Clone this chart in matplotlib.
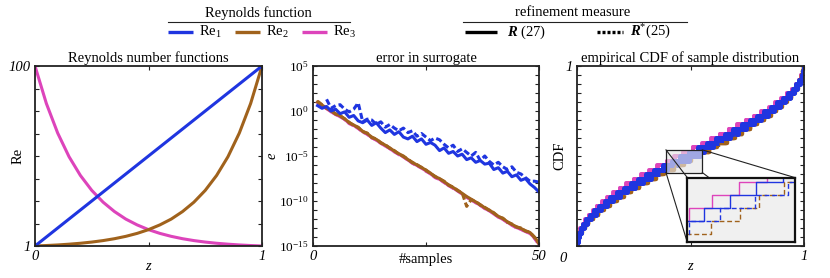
import numpy as np
import matplotlib
matplotlib.use('Agg')
import matplotlib.pyplot as plt
from matplotlib.lines import Line2D
from matplotlib.patches import Rectangle

plt.rcParams['font.family'] = ['Liberation Serif', 'DejaVu Serif']
plt.rcParams['mathtext.fontset'] = 'custom'
plt.rcParams['mathtext.rm'] = 'Liberation Serif'
plt.rcParams['mathtext.it'] = 'Liberation Serif:italic'
plt.rcParams['mathtext.bf'] = 'Liberation Serif:bold:italic'

C_BLUE = '#1f35e0'
C_BROWN = '#a0621c'
C_PINK = '#dd44bb'
C_AX = '#222222'
FS = 10.5

# ---------------- panel 1: Reynolds number functions ----------------
z_re = [0.0, 0.05, 0.1, 0.15, 0.2, 0.25, 0.3, 0.35, 0.4, 0.45, 0.5,
        0.55, 0.6, 0.65, 0.7, 0.75, 0.8, 0.85, 0.9, 0.95, 1.0]
re1 = [1.0, 5.95, 10.9, 15.85, 20.8, 25.75, 30.7, 35.65, 40.6, 45.55, 50.5,
       55.45, 60.4, 65.35, 70.3, 75.25, 80.2, 85.15, 90.1, 95.05, 100.0]
re2 = [1.0, 1.26, 1.58, 2.0, 2.51, 3.16, 3.98, 5.01, 6.31, 7.94, 10.0,
       12.6, 15.8, 19.95, 25.1, 31.6, 39.8, 50.1, 63.1, 79.4, 100.0]
re3 = [100.0, 79.4, 63.1, 50.1, 39.8, 31.6, 25.1, 19.95, 15.8, 12.6, 10.0,
       7.94, 6.31, 5.01, 3.98, 3.16, 2.51, 2.0, 1.58, 1.26, 1.0]

# ---------------- panel 2: error in surrogate (log10 of error) ----------------
n_R = list(range(1, 51))
n_Rs_re1 = list(range(3, 51))
log_err_re1_R = [0.6, 0.3, 0.5, 0.0, 0.2, -0.3, -0.1, -0.7, -0.5, -1.1,
                 -1.3, -1.0, -1.6, -1.3, -1.9, -2.4, -2.1, -2.6, -2.3, -2.9,
                 -3.1, -2.8, -3.4, -3.1, -3.7, -3.5, -3.8, -4.4, -4.1, -4.7,
                 -4.5, -5.0, -4.8, -5.4, -5.2, -5.7, -5.5, -5.9, -5.8, -6.5,
                 -6.3, -6.9, -6.7, -7.3, -7.1, -7.7, -7.5, -8.1, -8.5, -9.0]
log_err_re1_Rs = [1.3, 0.3, 0.6, 0.7, 0.2, -0.1, 0.2, 0.9, -1.2, -0.9,
                  -1.0, -1.5, -1.2, -1.8, -1.5, -1.9, -2.2, -1.9, -2.4, -2.2,
                  -2.8, -2.5, -2.9, -3.3, -3.0, -3.2, -3.7, -4.1, -3.8, -4.5,
                  -4.2, -4.6, -5.0, -4.6, -5.5, -5.0, -5.6, -6.0, -5.7, -6.2,
                  -6.5, -6.2, -6.8, -7.0, -7.4, -7.8, -7.8, -7.9]
log_err_re2_R = [1.0, 0.65, 0.35, 0.0, -0.3, -0.55, -0.85, -1.3, -1.55, -1.85,
                 -2.25, -2.5, -2.9, -3.15, -3.5, -3.8, -4.1, -4.45, -4.75, -5.0,
                 -5.4, -5.7, -6.0, -6.25, -6.6, -6.9, -7.3, -7.5, -7.85, -8.2,
                 -8.5, -8.8, -9.15, -9.5, -9.8, -10.1, -10.4, -10.75, -11.0, -11.35,
                 -11.7, -11.95, -12.3, -12.6, -12.85, -13.05, -13.3, -13.5, -14.0, -14.7]
log_err_re2_Rs = [1.1, 0.7, 0.3, 0.05, -0.35, -0.5, -0.9, -1.25, -1.6, -1.8,
                  -2.3, -2.45, -2.95, -3.1, -3.55, -3.75, -4.15, -4.4, -4.8, -5.05,
                  -5.35, -5.75, -5.95, -6.3, -6.55, -6.95, -7.25, -7.55, -7.8, -8.25,
                  -8.45, -8.85, -9.1, -10.6, -9.85, -10.05, -10.45, -10.7, -11.05, -11.3,
                  -11.75, -11.9, -12.35, -12.55, -12.9, -13.0, -13.35, -13.45, -14.05, -14.75]
log_err_re3_R = [0.95, 0.6, 0.3, -0.1, -0.35, -0.65, -0.9, -1.4, -1.6, -1.95,
                 -2.3, -2.6, -2.95, -3.25, -3.55, -3.9, -4.15, -4.55, -4.8, -5.1,
                 -5.45, -5.8, -6.05, -6.35, -6.65, -7.0, -7.35, -7.6, -7.9, -8.3,
                 -8.55, -8.9, -9.2, -9.6, -9.85, -10.2, -10.45, -10.85, -11.05, -11.45,
                 -11.75, -12.05, -12.35, -12.7, -12.95, -13.15, -13.4, -13.6, -14.1, -14.8]
log_err_re3_Rs = [0.9, 0.55, 0.25, -0.05, -0.4, -0.6, -0.95, -1.35, -1.65, -1.9,
                  -2.35, -2.55, -3.0, -3.2, -3.6, -3.85, -4.2, -4.5, -4.85, -5.1,
                  -5.45, -5.8, -6.1, -6.3, -6.7, -6.95, -7.4, -7.6, -7.95, -8.25,
                  -8.6, -8.85, -9.25, -9.55, -9.9, -10.15, -10.5, -10.8, -11.1, -11.4,
                  -11.8, -12.0, -12.4, -12.65, -13.0, -13.1, -13.45, -13.55, -14.15, -14.85]

# ---------------- panel 3: samples (empirical CDF) ----------------
smp_re1_R = [0.0004, 0.0031, 0.0086, 0.0169, 0.0279, 0.0415, 0.0578, 0.0766, 0.0977, 0.1213,
             0.1471, 0.1750, 0.2049, 0.2367, 0.2701, 0.3049, 0.3409, 0.3784, 0.4167, 0.4553,
             0.4947, 0.5339, 0.5734, 0.6127, 0.6511, 0.6887, 0.7251, 0.7605, 0.7942, 0.8259,
             0.8557, 0.8831, 0.9080, 0.9302, 0.9497, 0.9661, 0.9793, 0.9894, 0.9961, 0.9996]
smp_re1_Rs = [0.0004, 0.0035, 0.0096, 0.0188, 0.0309, 0.0459, 0.0638, 0.0843, 0.1073, 0.1328,
              0.1606, 0.1904, 0.2222, 0.2558, 0.2907, 0.3269, 0.3641, 0.3950, 0.4400, 0.4930,
              0.5410, 0.5586, 0.5975, 0.6359, 0.6731, 0.7093, 0.7442, 0.7778, 0.8096, 0.8394,
              0.8672, 0.8927, 0.9157, 0.9362, 0.9541, 0.9691, 0.9812, 0.9904, 0.9965, 0.9996]
smp_re2_R = [0.0004, 0.0038, 0.0104, 0.0203, 0.0333, 0.0494, 0.0686, 0.0905, 0.1150, 0.1420,
             0.1714, 0.2028, 0.2362, 0.2712, 0.3075, 0.3450, 0.3835, 0.4225, 0.4620, 0.5015,
             0.5408, 0.5795, 0.6180, 0.6555, 0.6918, 0.7268, 0.7605, 0.7925, 0.8228, 0.8510,
             0.8770, 0.9008, 0.9222, 0.9412, 0.9578, 0.9716, 0.9828, 0.9912, 0.9968, 0.9996]
smp_re2_Rs = [0.0004, 0.0039, 0.0106, 0.0207, 0.0339, 0.0503, 0.0698, 0.0920, 0.1169, 0.1443,
              0.1741, 0.2058, 0.2395, 0.2749, 0.3113, 0.3489, 0.3873, 0.4266, 0.4700, 0.4980,
              0.5360, 0.5833, 0.6216, 0.6591, 0.6951, 0.7299, 0.7633, 0.7951, 0.8250, 0.8529,
              0.8787, 0.9023, 0.9234, 0.9422, 0.9585, 0.9721, 0.9831, 0.9914, 0.9969, 0.9996]
smp_re3_R = [0.0003, 0.0028, 0.0077, 0.0151, 0.0249, 0.0371, 0.0518, 0.0688, 0.0881, 0.1097,
             0.1336, 0.1596, 0.1876, 0.2177, 0.2494, 0.2829, 0.3178, 0.3544, 0.3945, 0.4290,
             0.4690, 0.5100, 0.5494, 0.5896, 0.6291, 0.6680, 0.7061, 0.7432, 0.7788, 0.8124,
             0.8441, 0.8735, 0.9002, 0.9242, 0.9453, 0.9631, 0.9775, 0.9885, 0.9958, 0.9995]
smp_re3_Rs = [0.0003, 0.0029, 0.0079, 0.0155, 0.0255, 0.0380, 0.0530, 0.0702, 0.0900, 0.1120,
              0.1362, 0.1625, 0.1908, 0.2210, 0.2530, 0.2865, 0.3215, 0.3580, 0.3960, 0.4330,
              0.4720, 0.5120, 0.5530, 0.5930, 0.6320, 0.6710, 0.7090, 0.7460, 0.7815, 0.8150,
              0.8465, 0.8755, 0.9020, 0.9255, 0.9462, 0.9638, 0.9780, 0.9888, 0.9959, 0.9995]

W, H = 830, 278
fig = plt.figure(figsize=(W / 100, H / 100), dpi=100)


def fx(px):
    return px / W


def fy(py):
    return 1 - py / H


def make_ax(l, r, t=66, b=246):
    return fig.add_axes([fx(l), fy(b), fx(r) - fx(l), fy(t) - fy(b)])


def style(ax):
    ax.tick_params(which='both', direction='in', top=True, right=True,
                   length=3, width=0.8, color=C_AX, labelsize=FS, pad=3)
    for s in ax.spines.values():
        s.set_linewidth(1.3)
        s.set_color(C_AX)


ax1 = make_ax(35, 262)
ax2 = make_ax(313, 539)
ax3 = make_ax(577, 804)
for ax in (ax1, ax2, ax3):
    style(ax)

# panel 1
ax1.plot(z_re, re3, color=C_PINK, lw=2.2)
ax1.plot(z_re, re2, color=C_BROWN, lw=2.2)
ax1.plot(z_re, re1, color=C_BLUE, lw=2.2)
ax1.set_xlim(0, 1)
ax1.set_ylim(1, 100)
ax1.set_xticks([0, 0.5, 1])
ax1.set_xticklabels(['0', '', '1'], fontstyle='italic')
ax1.set_yticks(np.linspace(1, 100, 9))
ax1.set_yticklabels(['1'] + [''] * 7 + ['100'], fontstyle='italic')
ax1.set_title('Reynolds number functions', fontsize=FS, pad=3)
ax1.set_ylabel('Re', fontsize=FS)
ax1.yaxis.set_label_coords(-0.045, 0.5)
ax1.set_xlabel('$z$', fontsize=FS)
ax1.xaxis.set_label_coords(0.5, -0.075)

# panel 2
dash_long = (2.0, 1.0)
ax2.plot(n_R, 10.0 ** np.array(log_err_re3_Rs), color=C_PINK, lw=2.2, dashes=dash_long)
ax2.plot(n_R, 10.0 ** np.array(log_err_re3_R), color=C_PINK, lw=2.2)
ax2.plot(n_R, 10.0 ** np.array(log_err_re2_Rs), color=C_BROWN, lw=2.2, dashes=dash_long)
ax2.plot(n_R, 10.0 ** np.array(log_err_re2_R), color=C_BROWN, lw=2.2)
ax2.plot(n_Rs_re1, 10.0 ** np.array(log_err_re1_Rs), color=C_BLUE, lw=2.2, dashes=dash_long)
ax2.plot(n_R, 10.0 ** np.array(log_err_re1_R), color=C_BLUE, lw=2.2)
ax2.set_yscale('log')
ax2.set_xlim(0, 50)
ax2.set_ylim(1e-15, 1e5)
ax2.set_xticks([0, 25, 50])
ax2.set_xticklabels(['0', '', '50'], fontstyle='italic')
ax2.set_yticks([10.0 ** e for e in range(-15, 6)])
ax2.yaxis.set_minor_locator(matplotlib.ticker.NullLocator())
ylabs = []
for e in range(-15, 6):
    ylabs.append(r'$\mathit{10}^{\mathit{%d}}$' % e if e % 5 == 0 else '')
ax2.set_yticklabels(ylabs)
ax2.tick_params(axis='y', labelsize=9.5)
ax2.set_title('error in surrogate', fontsize=FS, pad=3)
ax2.set_ylabel('$e$', fontsize=FS)
ax2.yaxis.set_label_coords(-0.15, 0.5)
ax2.set_xlabel('#samples', fontsize=FS)
ax2.xaxis.set_label_coords(0.5, -0.04)

# panel 3
series3 = [
    (smp_re3_Rs, C_PINK, True, 2.8), (smp_re3_R, C_PINK, False, 2.8),
    (smp_re2_Rs, C_BROWN, True, 3.2), (smp_re2_R, C_BROWN, False, 3.2),
    (smp_re1_Rs, C_BLUE, True, 3.6), (smp_re1_R, C_BLUE, False, 3.6),
]
for smp, col, dashed, lw in series3:
    kw = dict(dashes=(4.0, 0.5)) if dashed else {}
    ax3.ecdf(smp, color=col, lw=lw, **kw)
ax3.set_xlim(0, 1)
ax3.set_ylim(0, 1)
ax3.set_xticks([0, 0.5, 1])
ax3.set_xticklabels(['', '', '1'], fontstyle='italic')
ax3.set_yticks(np.linspace(0, 1, 21))
ax3.set_yticklabels([''] * 20 + ['1'], fontstyle='italic')
ax3.text(-0.06, -0.07, '0', transform=ax3.transAxes, fontsize=FS,
         fontstyle='italic', ha='center', va='center')
ax3.set_title('empirical CDF of sample distribution', fontsize=FS, pad=3)
ax3.set_ylabel('CDF', fontsize=FS)
ax3.yaxis.set_label_coords(-0.045, 0.5)
ax3.set_xlabel('$z$', fontsize=FS)
ax3.xaxis.set_label_coords(0.5, -0.075)

# zoom box + inset
zx0, zx1, zy0, zy1 = 0.392, 0.552, 0.408, 0.534
ix0, iy0, iw, ih = 0.486, 0.02, 0.474, 0.36
ax3.add_patch(Rectangle((zx0, zy0), zx1 - zx0, zy1 - zy0, fc='#e6e6e6',
                        ec='none', alpha=0.65, zorder=4))
ax3.add_patch(Rectangle((zx0, zy0), zx1 - zx0, zy1 - zy0, fc='none',
                        ec=C_AX, lw=0.9, zorder=4))
for (a, b), (c, d) in [((zx0, zy1), (ix0, iy0 + ih)), ((zx1, zy1), (ix0 + iw, iy0 + ih)),
                       ((zx0, zy0), (ix0, iy0)), ((zx1, zy0), (ix0 + iw, iy0))]:
    ax3.add_line(Line2D([a, c], [b, d], color=C_AX, lw=0.8, zorder=4))

axin = ax3.inset_axes([ix0, iy0, iw, ih])
axin.set_facecolor('#f0f0f0')
for smp, col, dashed in [(smp_re2_Rs, C_BROWN, True), (smp_re3_R, C_PINK, False),
                         (smp_re1_R, C_BLUE, False), (smp_re1_Rs, C_BLUE, True)]:
    kw = dict(dashes=(3.5, 2.0)) if dashed else {}
    axin.ecdf(smp, color=col, lw=1.0, **kw)
axin.set_xlim(zx0, zx1)
axin.set_ylim(zy0, zy1)
axin.set_xticks([])
axin.set_yticks([])
for s in axin.spines.values():
    s.set_linewidth(1.6)
    s.set_color('#111111')

# ---------------- legends ----------------
def legend_line(x0, x1, y, **kw):
    fig.add_artist(Line2D([fx(x0), fx(x1)], [fy(y), fy(y)], **kw))


fig.text(fx(258), fy(13), 'Reynolds function', fontsize=FS, ha='center', va='center')
legend_line(168, 350, 21.5, color='#222222', lw=0.8)
for x0, col, lab in [(168, C_BLUE, 'Re$_1$'), (235, C_BROWN, 'Re$_2$'), (302, C_PINK, 'Re$_3$')]:
    legend_line(x0, x0 + 25, 32, color=col, lw=2.4, solid_capstyle='butt')
    fig.text(fx(x0 + 31), fy(32), lab, fontsize=FS, ha='left', va='center')

fig.text(fx(573), fy(13), 'refinement measure', fontsize=FS, ha='center', va='center')
legend_line(463, 687, 21.5, color='#222222', lw=0.8)
legend_line(465, 497, 32, color='black', lw=2.4, solid_capstyle='butt')
fig.text(fx(507), fy(32), r'$\mathbf{R}$ (27)', fontsize=FS, ha='left', va='center')
legend_line(597, 623, 32, color='black', lw=2.4, dashes=(0.9, 0.6), dash_capstyle='butt')
fig.text(fx(630), fy(32), r'$\mathbf{R}^{*}$(25)', fontsize=FS, ha='left', va='center')

fig.savefig('out.png', dpi=100)
